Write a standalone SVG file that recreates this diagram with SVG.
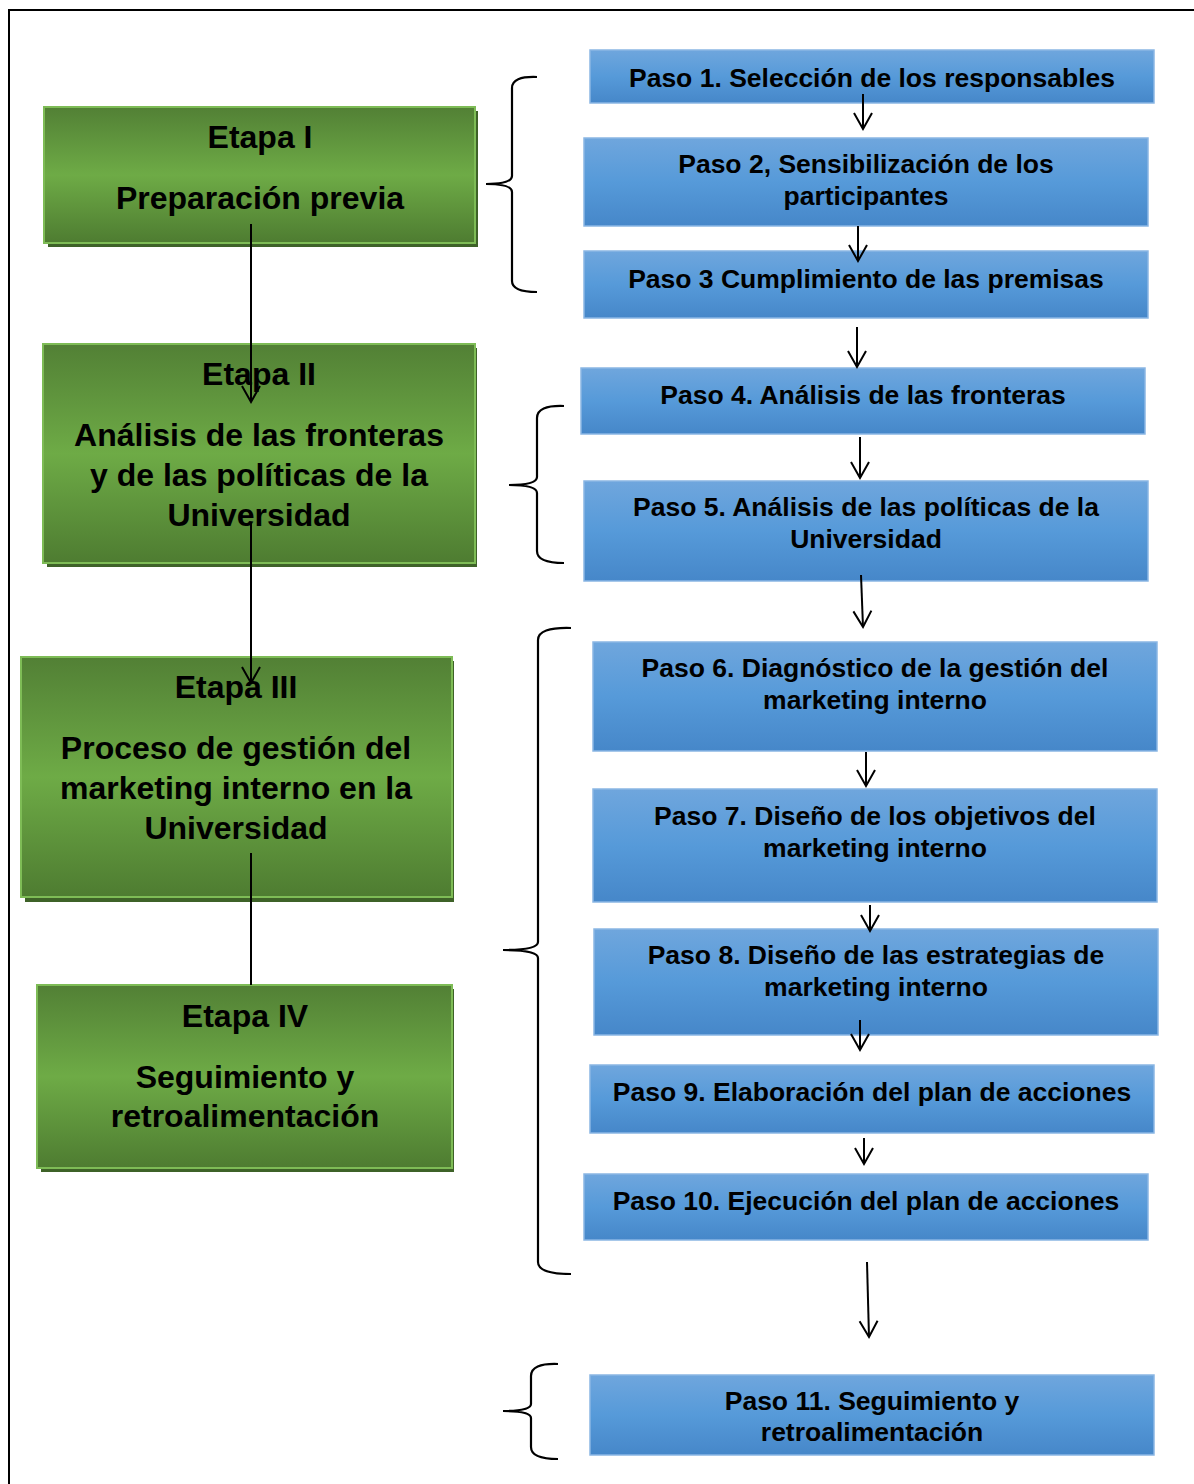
<svg xmlns="http://www.w3.org/2000/svg" width="1194" height="1484" viewBox="0 0 1194 1484">
<defs>
<linearGradient id="gG" x1="0" y1="0" x2="0" y2="1">
<stop offset="0" stop-color="#528035"/>
<stop offset="0.5" stop-color="#6eab46"/>
<stop offset="1" stop-color="#4e7c31"/>
</linearGradient>
<linearGradient id="gB" x1="0" y1="0" x2="0" y2="1">
<stop offset="0" stop-color="#6fa6dd"/>
<stop offset="0.5" stop-color="#569ad9"/>
<stop offset="1" stop-color="#4687c9"/>
</linearGradient>
<marker id="ar" markerWidth="20" markerHeight="22" refX="17" refY="11" orient="auto" markerUnits="userSpaceOnUse" viewBox="0 0 20 22">
<path d="M1,2 L17,11 L1,20" fill="none" stroke="#000" stroke-width="2"/>
</marker>
</defs>
<style>
.green{fill:url(#gG);stroke:#7ebc56;stroke-width:2}
.shadow{fill:#3e6228}
.blue{fill:url(#gB);stroke:#8ab6e4;stroke-width:1.5}
.gt{font-family:"Liberation Sans",Arial,sans-serif;font-weight:bold;font-size:32px;text-anchor:middle;fill:#000}
.bt{font-family:"Liberation Sans",Arial,sans-serif;font-weight:bold;font-size:26.5px;text-anchor:middle;fill:#000}
.conn{fill:none;stroke:#000;stroke-width:2}
.brace{fill:none;stroke:#000;stroke-width:2.2}
</style>
<rect x="9" y="10" width="1200" height="1500" fill="#fff" stroke="#000" stroke-width="2"/>

<g id="etapa1">
<rect class="shadow" x="48" y="111" width="430" height="136"/>
<rect class="green" x="44" y="107" width="431" height="136"/>
<text class="gt" x="260" y="148">Etapa I</text>
<text class="gt" x="260" y="209">Preparación previa</text>
</g>
<g id="etapa2">
<rect class="shadow" x="47" y="348" width="430" height="219"/>
<rect class="green" x="43" y="344" width="432" height="219"/>
<text class="gt" x="259" y="385">Etapa II</text>
<text class="gt" x="259" y="446">Análisis de las fronteras</text>
<text class="gt" x="259" y="486">y de las políticas de la</text>
<text class="gt" x="259" y="526">Universidad</text>
</g>
<g id="etapa3">
<rect class="shadow" x="25" y="661" width="429" height="241"/>
<rect class="green" x="21" y="657" width="431" height="240"/>
<text class="gt" x="236" y="698">Etapa III</text>
<text class="gt" x="236" y="759">Proceso de gestión del</text>
<text class="gt" x="236" y="799">marketing interno en la</text>
<text class="gt" x="236" y="839">Universidad</text>
</g>
<g id="etapa4">
<rect class="shadow" x="41" y="989" width="413" height="183"/>
<rect class="green" x="37" y="985" width="415" height="183"/>
<text class="gt" x="245" y="1027">Etapa IV</text>
<text class="gt" x="245" y="1088">Seguimiento y</text>
<text class="gt" x="245" y="1127">retroalimentación</text>
</g>

<g id="paso1"><rect class="blue" x="590" y="50" width="564" height="53"/><text class="bt" x="872" y="87">Paso 1. Selección de los responsables</text></g>
<g id="paso2"><rect class="blue" x="584" y="138" width="564" height="88"/><text class="bt" x="866" y="173">Paso 2, Sensibilización de los</text><text class="bt" x="866" y="205">participantes</text></g>
<g id="paso3"><rect class="blue" x="584" y="251" width="564" height="67"/><text class="bt" x="866" y="288">Paso 3 Cumplimiento de las premisas</text></g>
<g id="paso4"><rect class="blue" x="581" y="368" width="564" height="66"/><text class="bt" x="863" y="404">Paso 4. Análisis de las fronteras</text></g>
<g id="paso5"><rect class="blue" x="584" y="481" width="564" height="100"/><text class="bt" x="866" y="516">Paso 5. Análisis de las políticas de la</text><text class="bt" x="866" y="548">Universidad</text></g>
<g id="paso6"><rect class="blue" x="593" y="642" width="564" height="109"/><text class="bt" x="875" y="677">Paso 6. Diagnóstico de la gestión del</text><text class="bt" x="875" y="709">marketing interno</text></g>
<g id="paso7"><rect class="blue" x="593" y="789" width="564" height="113"/><text class="bt" x="875" y="825">Paso 7. Diseño de los objetivos del</text><text class="bt" x="875" y="857">marketing interno</text></g>
<g id="paso8"><rect class="blue" x="594" y="929" width="564" height="106"/><text class="bt" x="876" y="964">Paso 8. Diseño de las estrategias de</text><text class="bt" x="876" y="996">marketing interno</text></g>
<g id="paso9"><rect class="blue" x="590" y="1065" width="564" height="68"/><text class="bt" x="872" y="1101">Paso 9. Elaboración del plan de acciones</text></g>
<g id="paso10"><rect class="blue" x="584" y="1174" width="564" height="66"/><text class="bt" x="866" y="1210">Paso 10. Ejecución del plan de acciones</text></g>
<g id="paso11"><rect class="blue" x="590" y="1375" width="564" height="80"/><text class="bt" x="872" y="1410">Paso 11. Seguimiento y</text><text class="bt" x="872" y="1441">retroalimentación</text></g>

<g id="connectors">
<line class="conn" x1="251" y1="224" x2="251" y2="402" marker-end="url(#ar)"/>
<line class="conn" x1="251" y1="522" x2="251" y2="683" marker-end="url(#ar)"/>
<line class="conn" x1="251" y1="853" x2="251" y2="985"/>
<line class="conn" x1="863" y1="94" x2="863" y2="129" marker-end="url(#ar)"/>
<line class="conn" x1="858" y1="226" x2="858" y2="261" marker-end="url(#ar)"/>
<line class="conn" x1="857" y1="327" x2="857" y2="367" marker-end="url(#ar)"/>
<line class="conn" x1="860" y1="437" x2="860" y2="478" marker-end="url(#ar)"/>
<line class="conn" x1="861" y1="575" x2="863" y2="627" marker-end="url(#ar)"/>
<line class="conn" x1="866" y1="752" x2="866" y2="786" marker-end="url(#ar)"/>
<line class="conn" x1="870" y1="905" x2="870" y2="931" marker-end="url(#ar)"/>
<line class="conn" x1="860" y1="1020" x2="860" y2="1050" marker-end="url(#ar)"/>
<line class="conn" x1="864" y1="1138" x2="864" y2="1164" marker-end="url(#ar)"/>
<line class="conn" x1="867" y1="1262" x2="869" y2="1337" marker-end="url(#ar)"/>
<path class="brace" d="M537,77 Q512,76 512,88 L512,176 Q512,184 486,184 Q512,184 512,192 L512,281 Q512,292 537,292"/>
<path class="brace" d="M564,406 Q537,405 537,418 L537,477 Q537,485 509,485 Q537,485 537,493 L537,551 Q537,563 564,563"/>
<path class="brace" d="M571,628 Q538,627 538,640 L538,942 Q538,950 503,950 Q538,950 538,958 L538,1262 Q538,1274 571,1274"/>
<path class="brace" d="M558,1364 Q531,1363 531,1376 L531,1404 Q531,1411 503,1411 Q531,1411 531,1418 L531,1447 Q531,1459 558,1459"/>
</g>
</svg>
